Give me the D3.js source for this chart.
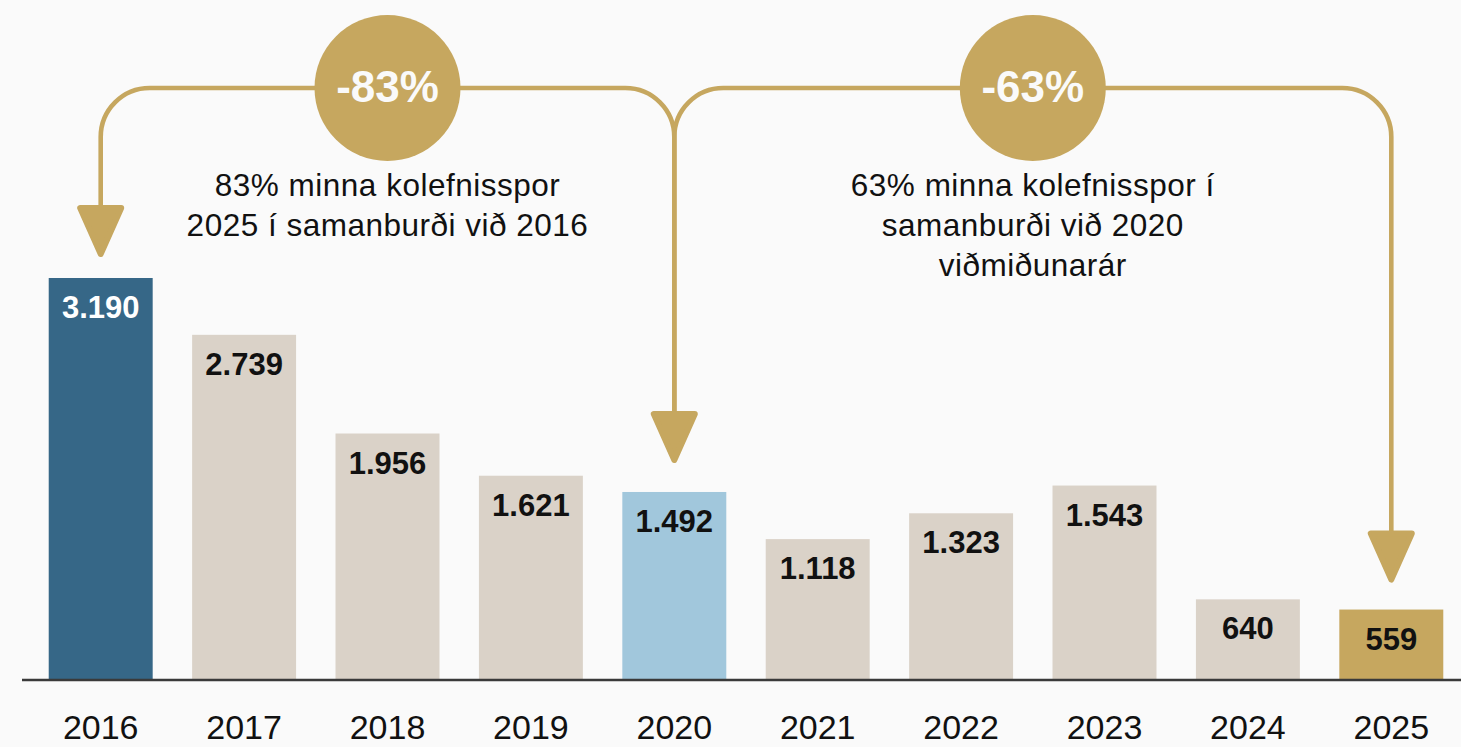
<!DOCTYPE html>
<html>
<head>
<meta charset="utf-8">
<script src="https://cdn.jsdelivr.net/npm/d3@7"></script>
<style>
  html, body { margin: 0; padding: 0; background: #fafafa; }
  svg { display: block; }
</style>
</head>
<body>
<svg id="chart" width="1461" height="747"></svg>
<script>
// ---- data ----
const years = ["2016", "2017", "2018", "2019", "2020", "2021", "2022", "2023", "2024", "2025"];
const values = [3190, 2739, 1956, 1621, 1492, 1118, 1323, 1543, 640, 559];

const badgeLabels = ["-83%", "-63%"];
const badgeSpans = [["2016", "2020"], ["2020", "2025"]];
const badgeNotes = [
  ["83% minna kolefnisspor", "2025 í samanburði við 2016"],
  ["63% minna kolefnisspor í", "samanburði við 2020", "viðmiðunarár"]
];
const arrowTargets = ["2016", "2020", "2025"];

// ---- setup ----
const W = 1461, H = 747;
const svg = d3.select("#chart");
const gold = "#c6a75f";
const fmt = d3.formatLocale({ decimal: ",", thousands: ".", grouping: [3], currency: ["", ""] }).format(",d");
const font = "'Liberation Sans', Arial, Helvetica, sans-serif";

const x = d3.scaleBand().domain(years).range([29, 1463]).paddingInner(0.275).paddingOuter(0.1375);
const y = d3.scaleLinear().domain([0, 3190]).range([680, 278]);

function barColor(yr) {
  if (yr === "2016") return "#366787";
  if (yr === "2020") return "#a1c7dc";
  if (yr === "2025") return "#c6a75f";
  return "#dad2c8";
}
const cx = yr => x(yr) + x.bandwidth() / 2;
const data = years.map((yr, i) => ({ year: yr, value: values[i] }));

// bars
svg.append("g").selectAll("rect").data(data).join("rect")
  .attr("x", d => x(d.year))
  .attr("y", d => y(d.value))
  .attr("width", x.bandwidth())
  .attr("height", d => y(0) - y(d.value))
  .attr("fill", d => barColor(d.year));

// value labels
svg.append("g").selectAll("text").data(data).join("text")
  .attr("x", d => cx(d.year))
  .attr("y", d => y(d.value) + 40)
  .attr("text-anchor", "middle")
  .attr("font-family", font)
  .attr("font-weight", "bold")
  .attr("font-size", 31)
  .attr("fill", d => d.year === "2016" ? "#ffffff" : "#111111")
  .text(d => fmt(d.value));

// baseline axis
const axis = svg.append("g").attr("transform", `translate(0,${y(0)})`)
  .call(d3.axisBottom(x).tickSize(0).tickPadding(0));
axis.select(".domain").remove();
axis.append("line").attr("x1", 22).attr("x2", W).attr("y1", 0).attr("y2", 0)
  .attr("stroke", "#3a3a3a").attr("stroke-width", 2.5);
axis.selectAll(".tick text")
  .attr("y", 59).attr("dy", null)
  .attr("font-family", font).attr("font-size", 34).attr("fill", "#111");

// connectors
const lineY = 88, R = 49;
const tipGap = { "2016": 21, "2020": 29, "2025": 27 };
const headH = 52, headW = 47;
const tipY = yr => y(values[years.indexOf(yr)]) - tipGap[yr];

function connector(xs, xe, yEnd) {
  const p = d3.path();
  p.moveTo(xs, lineY);
  p.lineTo(xe < xs ? xe + R : xe - R, lineY);
  p.arcTo(xe, lineY, xe, lineY + R, R);
  p.lineTo(xe, yEnd);
  return p.toString();
}

const badgeX = badgeSpans.map(s => (cx(s[0]) + cx(s[1])) / 2);
const conn = svg.append("g").attr("fill", "none").attr("stroke", gold).attr("stroke-width", 4.6);
badgeSpans.forEach((s, i) => {
  s.forEach(yr => {
    conn.append("path").attr("d", connector(badgeX[i], cx(yr), tipY(yr) - headH + 4));
  });
});

// arrowheads
svg.append("g").selectAll("path").data(arrowTargets).join("path")
  .attr("d", yr => {
    const c = cx(yr), t = tipY(yr), top = t - headH, hw = headW / 2 - 3;
    return `M${c - hw},${top + 3}L${c + hw},${top + 3}L${c},${t - 3}Z`;
  })
  .attr("fill", gold).attr("stroke", gold).attr("stroke-width", 6).attr("stroke-linejoin", "round");

// badges
const badges = svg.append("g").selectAll("g").data(badgeLabels).join("g")
  .attr("transform", (d, i) => `translate(${badgeX[i]},${lineY})`);
badges.append("circle").attr("r", 73).attr("fill", gold);
badges.append("text")
  .attr("y", 14).attr("text-anchor", "middle")
  .attr("font-family", font).attr("font-weight", "bold").attr("font-size", 44)
  .attr("fill", "#fafafa").text(d => d);

// notes
badgeNotes.forEach((lines, i) => {
  const t = svg.append("text")
    .attr("text-anchor", "middle")
    .attr("font-family", font).attr("font-size", 31.5).attr("letter-spacing", 0.5)
    .attr("fill", "#111");
  lines.forEach((ln, j) => {
    t.append("tspan").attr("x", badgeX[i]).attr("y", 196 + j * 40).text(ln);
  });
});
</script>
</body>
</html>
